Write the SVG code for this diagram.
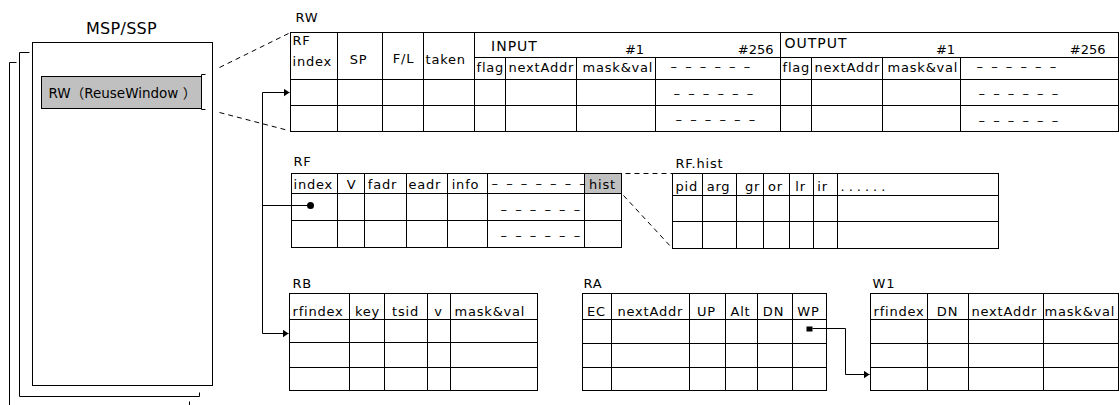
<svg xmlns="http://www.w3.org/2000/svg" width="1120" height="405" viewBox="0 0 1120 405">
<style>
text{font-family:"DejaVu Sans","Noto Sans CJK JP",sans-serif;font-size:13px;fill:#000;letter-spacing:0.8px}
.big{font-size:14px;letter-spacing:1px}
.num{letter-spacing:0}
.m{text-anchor:middle}
.e{text-anchor:end}
.dash{letter-spacing:2px}
.dots{letter-spacing:4px}
.tb{fill:none;stroke:#000;stroke-width:1}
.ln{stroke:#000;stroke-width:1;fill:none}
.dl{stroke:#000;stroke-width:1;fill:none;stroke-dasharray:5 4}
.gray{fill:#c0c0c0}
</style>
<defs>
<marker id="arr" markerUnits="userSpaceOnUse" markerWidth="7" markerHeight="8" refX="6" refY="4" orient="auto">
<path d="M0,0 L6,4 L0,8 z" fill="#000"/>
</marker>
</defs>
<g transform="translate(0.5 0.5)">
<g id="msp">
<text x="121" y="33" class="m" style="font-size:16px;letter-spacing:0.3px">MSP/SSP</text>
<path class="ln" d="M16,62 H9 V405"/>
<path class="ln" d="M189,401 V405"/>
<path class="ln" d="M29,52 H19 V396 H199 V392"/>
<rect class="tb" x="32" y="42" width="180" height="343" fill="#fff"/>
<rect class="gray" x="41" y="76" width="160" height="32" stroke="#000"/>
<path class="ln" d="M205,74 H201 V109 H205"/>
<text x="48" y="97" style="font-size:13.5px;letter-spacing:0">RW（ReuseWindow ）</text>
</g>
<g id="rw">
<text x="295" y="21">RW</text>
<rect class="tb" x="290" y="32" width="828" height="99"/>
<path class="ln" d="M474,57 H1118 M290,79 H1118 M290,105 H1118 M337,32 V131 M382,32 V131 M423,32 V131 M474,32 V131 M780,32 V131 M505,57 V131 M576,57 V131 M655,57 V131 M811,57 V131 M882,57 V131 M960,57 V131"/>
<text x="292" y="44">RF</text>
<text x="292" y="65">index</text>
<text x="358" y="63" class="m">SP</text>
<text x="403" y="62" class="m">F/L</text>
<text x="425" y="63">taken</text>
<text x="514" y="50" class="m big">INPUT</text>
<text x="634" y="53" class="m num">#1</text>
<text x="773" y="53" class="e num">#256</text>
<text x="784" y="47" class="big">OUTPUT</text>
<text x="945" y="53" class="m num">#1</text>
<text x="1105" y="53" class="e num">#256</text>
<text x="476" y="71">flag</text>
<text x="508" y="71">nextAddr</text>
<text x="582" y="71">mask&amp;val</text>
<text x="670" y="70" class="dash">– – – – – –</text>
<text x="673" y="97" class="dash">– – – – – –</text>
<text x="675" y="123" class="dash">– – – – – –</text>
<text x="782" y="71">flag</text>
<text x="814" y="71">nextAddr</text>
<text x="887" y="71">mask&amp;val</text>
<text x="976" y="70" class="dash">– – – – – –</text>
<text x="978" y="97" class="dash">– – – – – –</text>
<text x="978" y="124" class="dash">– – – – – –</text>
</g>
<g id="rf">
<text x="293" y="165">RF</text>
<rect class="gray" x="584" y="173" width="37" height="20"/>
<rect class="tb" x="291" y="173" width="330" height="74"/>
<path class="ln" d="M291,193 H621 M291,220 H621 M337,173 V247 M364,173 V247 M406,173 V247 M447,173 V247 M487,173 V247 M584,173 V247"/>
<text x="293" y="188">index</text>
<text x="351" y="188" class="m">V</text>
<text x="382" y="188" class="m">fadr</text>
<text x="408" y="188">eadr</text>
<text x="465" y="188" class="m">info</text>
<text x="491" y="187" class="dash">– – – – – – –</text>
<text x="500" y="213" class="dash">– – – – – –</text>
<text x="500" y="239" class="dash">– – – – – –</text>
<text x="602" y="188" class="m">hist</text>
</g>
<g id="rfhist">
<text x="675" y="167">RF.hist</text>
<rect class="tb" x="672" y="173" width="326" height="75"/>
<path class="ln" d="M672,195 H998 M672,221 H998 M702,173 V248 M736,173 V248 M763,173 V248 M789,173 V248 M813,173 V248 M837,173 V248"/>
<text x="675" y="190">pid</text>
<text x="718" y="190" class="m">arg</text>
<text x="752" y="190" class="m">gr</text>
<text x="775" y="190" class="m">or</text>
<text x="800" y="190" class="m">lr</text>
<text x="822" y="190" class="m">ir</text>
<text x="840" y="190" class="dots">......</text>
</g>
<g id="rb">
<text x="292" y="287">RB</text>
<rect class="tb" x="289" y="293" width="248" height="97"/>
<path class="ln" d="M289,319 H537 M289,342 H537 M289,367 H537 M349,293 V390 M384,293 V390 M427,293 V390 M450,293 V390"/>
<text x="292" y="315">rfindex</text>
<text x="367" y="315" class="m">key</text>
<text x="405" y="315" class="m">tsid</text>
<text x="438" y="315" class="m">v</text>
<text x="454" y="315">mask&amp;val</text>
</g>
<g id="ra">
<text x="583" y="287">RA</text>
<rect class="tb" x="582" y="293" width="244" height="97"/>
<path class="ln" d="M582,319 H826 M582,343 H826 M582,367 H826 M611,293 V390 M689,293 V390 M725,293 V390 M757,293 V390 M792,293 V390"/>
<text x="596" y="315" class="m">EC</text>
<text x="617" y="315">nextAddr</text>
<text x="706" y="315" class="m">UP</text>
<text x="740" y="315" class="m">Alt</text>
<text x="773" y="315" class="m">DN</text>
<text x="808" y="315" class="m">WP</text>
</g>
<g id="w1">
<text x="872" y="287">W1</text>
<rect class="tb" x="870" y="293" width="248" height="97"/>
<path class="ln" d="M870,319 H1118 M870,343 H1118 M870,367 H1118 M927,293 V390 M968,293 V390 M1043,293 V390"/>
<text x="873" y="315">rfindex</text>
<text x="947" y="315" class="m">DN</text>
<text x="971" y="315">nextAddr</text>
<text x="1044" y="315">mask&amp;val</text>
</g>
<g id="connectors">
<path class="dl" d="M219,67 L288,33"/>
<path class="dl" d="M219,112 L288,130"/>
<path class="dl" d="M625,173 H672"/>
<path class="dl" d="M623,195 L672,248"/>
<path class="ln" d="M262,333 V92 H289" marker-end="url(#arr)"/>
<path class="ln" d="M262,333 H288" marker-end="url(#arr)"/>
<path class="ln" d="M262,205 H310"/>
<circle cx="310" cy="205" r="3.5" fill="#000"/>
<rect x="806" y="326" width="6" height="5" fill="#000"/>
<path class="ln" d="M812,328 H845 V374 H869" marker-end="url(#arr)"/>
</g>
</g>
</svg>
